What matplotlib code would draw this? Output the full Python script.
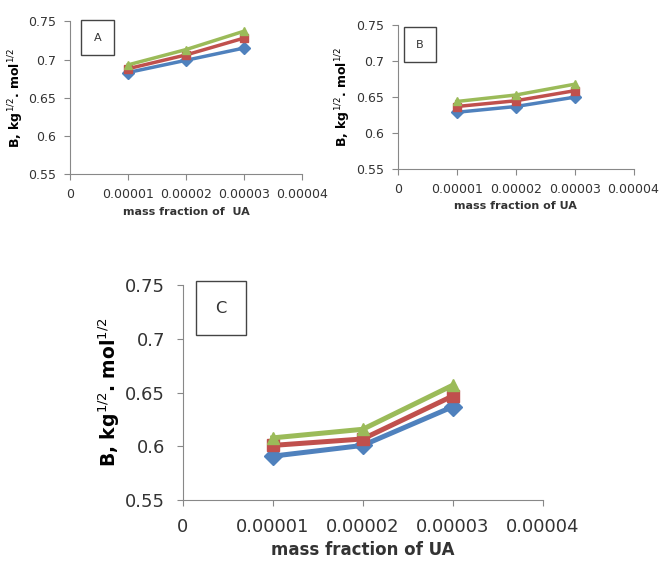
import numpy as np
import matplotlib.pyplot as plt

x = [0.00001, 0.00002, 0.00003]

# panel A
a_blue = [0.683, 0.699, 0.715]
a_red = [0.688, 0.706, 0.728]
a_green = [0.693, 0.713, 0.737]
# panel B
b_blue = [0.629, 0.637, 0.650]
b_red = [0.637, 0.645, 0.659]
b_green = [0.644, 0.653, 0.668]
# panel C
c_blue = [0.591, 0.601, 0.637]
c_red = [0.601, 0.607, 0.647]
c_green = [0.608, 0.616, 0.657]

xticks = [0, 0.00001, 0.00002, 0.00003, 0.00004]
xticklabels = ["0", "0.00001", "0.00002", "0.00003", "0.00004"]
yticks = [0.55, 0.6, 0.65, 0.7, 0.75]
yticklabels = ["0.55", "0.6", "0.65", "0.7", "0.75"]

colori = ["#4F81BD", "#C0504D", "#9BBB59"]
marker = ["D", "s", "^"]

fig = plt.figure(figsize=(6.62, 5.75), dpi=100)

pannelli = [
    ([0.106, 0.697, 0.350, 0.266], (a_blue, a_red, a_green), "A", 9, 9, 8, "mass fraction of  UA", (0.119, 0.892), 1.1),
    ([0.601, 0.706, 0.356, 0.250], (b_blue, b_red, b_green), "B", 9, 9, 8, "mass fraction of UA", (0.093, 0.865), 1.1),
    ([0.276, 0.130, 0.544, 0.374], (c_blue, c_red, c_green), "C", 13, 13.5, 12, "mass fraction of UA", (0.106, 0.893), 1.2),
]

for pos, serie, lettera, fs_tick, fs_y, fs_x, xlab, box_xy, box_pad in pannelli:
    ax = fig.add_axes(pos)
    scala = fs_tick / 9
    for s, c, m in zip(serie, colori, marker):
        ax.plot(x, s, color=c, marker=m, lw=2.5 * scala, markersize=6 * scala)
    ax.set_xlim(0, 0.00004)
    ax.set_ylim(0.55, 0.75)
    ax.set_xticks(xticks)
    ax.set_xticklabels(xticklabels, fontsize=fs_tick, color="#333333")
    ax.set_yticks(yticks)
    ax.set_yticklabels(yticklabels, fontsize=fs_tick, color="#333333")
    ax.spines["top"].set_visible(False)
    ax.spines["right"].set_visible(False)
    ax.spines["left"].set_color("#888888")
    ax.spines["bottom"].set_color("#888888")
    ax.tick_params(direction="out", color="#888888", length=4, pad=6 * scala)
    ax.set_ylabel(r"B, kg$^{1/2}$. mol$^{1/2}$", fontsize=fs_y, fontweight="bold", labelpad=2)
    ax.set_xlabel(xlab, fontsize=fs_x, fontweight="bold", color="#333333")
    ax.text(box_xy[0], box_xy[1], lettera, transform=ax.transAxes, ha="center", va="center",
            fontsize=fs_tick * 0.9, color="#333333",
            bbox=dict(boxstyle=f"square,pad={box_pad}", fc="white", ec="#444444", lw=1))

plt.savefig("out.png")
plt.close()
